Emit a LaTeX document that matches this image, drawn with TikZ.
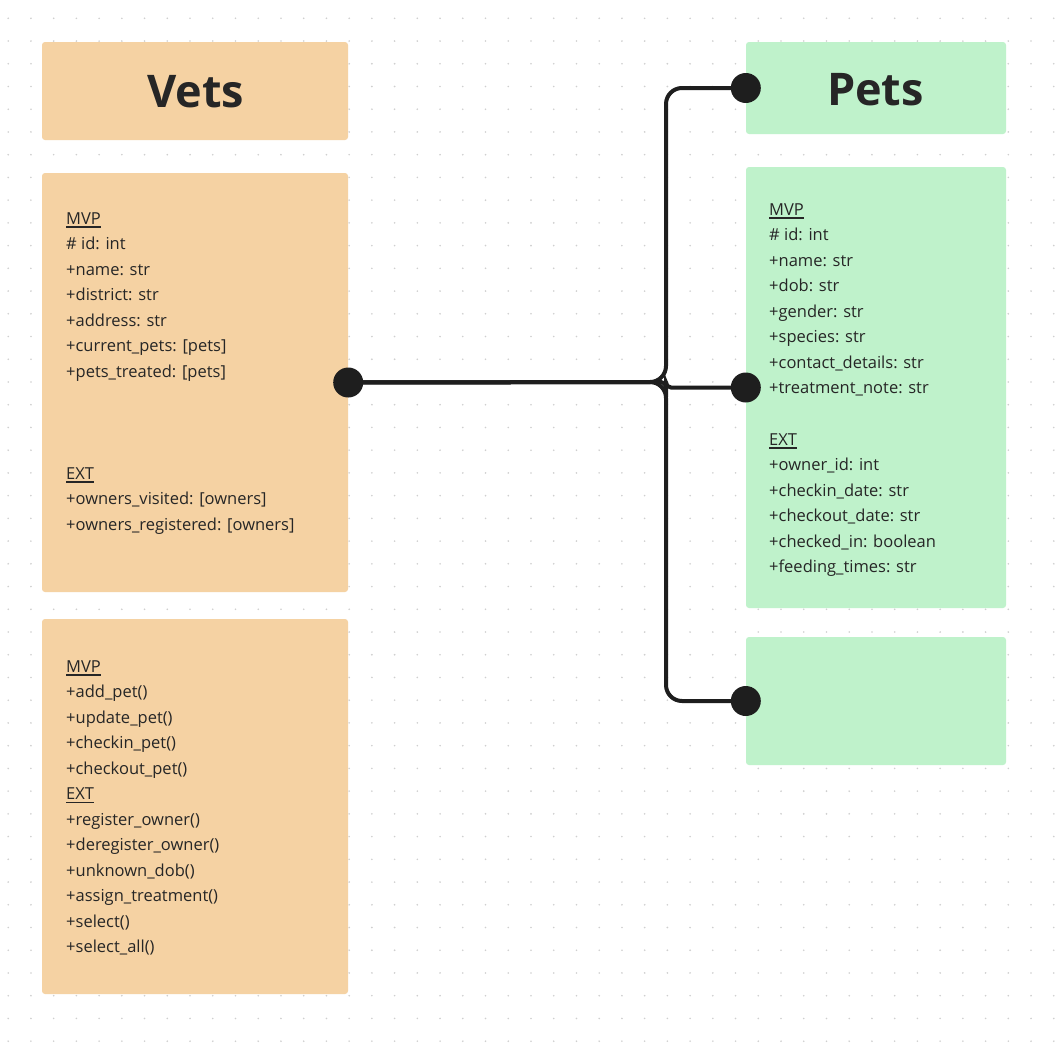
\documentclass[tikz,border=0pt]{standalone}
\usepackage{fontspec}
\setmainfont{Open Sans}
\definecolor{orangebox}{HTML}{F5D2A3}
\definecolor{greenbox}{HTML}{BFF2CB}
\definecolor{ink}{HTML}{262626}
\definecolor{wire}{HTML}{1E1E1E}
\definecolor{griddot}{HTML}{CFCFCF}
\newcommand\myul[1]{\leavevmode\setbox0\hbox{#1}\rlap{\rule[-3.5pt]{\wd0}{1.2pt}}\box0}
\tikzset{
  card/.style={draw=none, rounded corners=3pt, inner sep=0pt},
  vetcard/.style={card, fill=orangebox},
  petcard/.style={card, fill=greenbox},
  titletext/.style={inner sep=0pt, text=ink, font=\fontsize{45}{50}\selectfont\bfseries},
  attr/.style={anchor=base west, inner sep=0pt, text=ink, font=\fontsize{16.5}{20}\selectfont},
  conn/.style={draw=wire, line width=4pt, rounded corners=16pt},
  enddot/.style={circle, fill=wire, minimum size=30pt, inner sep=0pt},
}
\begin{document}
\begin{tikzpicture}[x=1pt,y=-1pt]
\useasboundingbox (0,0) rectangle (1062,1052);
\fill[white] (0,0) rectangle (1062,1052);
% dot grid
\foreach \i in {0,...,46}{
  \foreach \j in {0,...,45}{
    \fill[griddot] ({8.2+22.73*\i},{18.3+22.73*\j}) circle (0.9);
  }
}
% boxes
\node[vetcard, minimum width=306pt, minimum height=98pt] (vetsTitle) at (195,91) {};
\node[vetcard, minimum width=306pt, minimum height=419pt] (vetsAttr) at (195,382.5) {};
\node[vetcard, minimum width=306pt, minimum height=375pt] (vetsMeth) at (195,806.5) {};
\node[petcard, minimum width=260pt, minimum height=92pt] (petsTitle) at (876,88) {};
\node[petcard, minimum width=260pt, minimum height=441pt] (petsAttr) at (876,387.5) {};
\node[petcard, minimum width=260pt, minimum height=128pt] (petsExtra) at (876,701) {};
% titles
\node[titletext] (vetsName) at (195.5,92) {Vets};
\node[titletext] (petsName) at (875.5,90) {Pets};
% vets attributes
\foreach \t [count=\k from 0] in {{\myul{MVP}},{\# id: int},{+name: str},{+district: str},{+address: str},{+current\_pets: [pets]},{+pets\_treated: [pets]}}{
  \node[attr] (va\k) at (66,{224+25.5*\k}) {\t};
}
\foreach \t [count=\k from 0] in {{\myul{EXT}},{+owners\_visited: [owners]},{+owners\_registered: [owners]}}{
  \node[attr] (vb\k) at (66,{479+25.5*\k}) {\t};
}
% vets methods
\foreach \t [count=\k from 0] in {{\myul{MVP}},{+add\_pet()},{+update\_pet()},{+checkin\_pet()},{+checkout\_pet()},{\myul{EXT}},{+register\_owner()},{+deregister\_owner()},{+unknown\_dob()},{+assign\_treatment()},{+select()},{+select\_all()}}{
  \node[attr] (vm\k) at (66,{672+25.5*\k}) {\t};
}
% pets attributes
\foreach \t [count=\k from 0] in {{\myul{MVP}},{\# id: int},{+name: str},{+dob: str},{+gender: str},{+species: str},{+contact\_details: str},{+treatment\_note: str}}{
  \node[attr] (pa\k) at (769,{215+25.5*\k}) {\t};
}
\foreach \t [count=\k from 0] in {{\myul{EXT}},{+owner\_id: int},{+checkin\_date: str},{+checkout\_date: str},{+checked\_in: boolean},{+feeding\_times: str}}{
  \node[attr] (pb\k) at (769,{445+25.5*\k}) {\t};
}
% connectors
\coordinate (junction) at (666,382);
\draw[conn] (vetsAttr.east) -- (junction) |- (petsTitle.west);
\draw[conn] (vetsAttr.east) -- (junction) |- (petsExtra.west);
\draw[conn, rounded corners=5pt] (vetsAttr.east) -- (junction) |- (petsAttr.west);
\node[enddot] (d1) at (vetsAttr.east) {};
\node[enddot] (d2) at (petsTitle.west) {};
\node[enddot] (d3) at (petsAttr.west) {};
\node[enddot] (d4) at (petsExtra.west) {};
\end{tikzpicture}
\end{document}
